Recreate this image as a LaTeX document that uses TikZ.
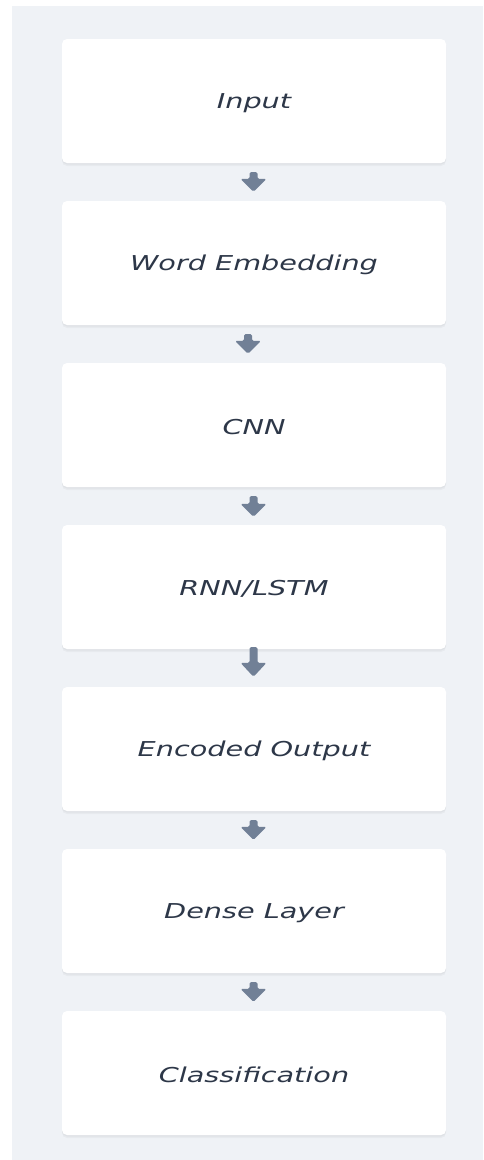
\documentclass[tikz,border=0pt]{standalone}
\usepackage{fontspec}
\setmainfont{DejaVu Sans}
\usetikzlibrary{calc,shadows}
\definecolor{panel}{HTML}{EFF2F6}
\definecolor{txt}{HTML}{2D3748}
\definecolor{arrowc}{HTML}{718096}
\newcommand{\lbl}[1]{\raisebox{-2pt}[\height][\depth]{\scalebox{1.4}[1]{\itshape #1}}}
% #1 from node, #2 to node, #3 dx, #4 gap below #1, #5 gap above #2, #6 head height
\newcommand{\blkarrow}[6]{%
  \fill[arrowc, rounded corners=1.5pt]
    ($(#1.south)+(#3-4,#4)$) -- ($(#1.south)+(#3+4,#4)$)
    -- ($(#2.north)+(#3+4,-#5-#6)$) -- ($(#2.north)+(#3+13,-#5-#6)$)
    -- ($(#2.north)+(#3,-#5)$)
    -- ($(#2.north)+(#3-13,-#5-#6)$) -- ($(#2.north)+(#3-4,-#5-#6)$) -- cycle;}
\begin{document}
\begin{tikzpicture}[x=1pt,y=-1pt,
  stage/.style={fill=white, rounded corners=5pt, minimum width=384pt, minimum height=124pt,
    inner sep=0pt, text=txt, font=\fontsize{20.5}{24}\selectfont,
    general shadow={fill=black, opacity=0.03, shadow xshift=0pt, shadow yshift=-3pt},
    general shadow={fill=black, opacity=0.03, shadow xshift=0pt, shadow yshift=-1.5pt}}]
\useasboundingbox (0,0) rectangle (483,1160);
\fill[white] (0,0) rectangle (483,1160);
\fill[panel] (12,6) rectangle (483,1160);
\node[stage] (b1) at (254,101) {\lbl{Input}};
\node[stage] (b2) at (254,263) {\lbl{Word Embedding}};
\node[stage] (b3) at (254,425) {\lbl{CNN}};
\node[stage] (b4) at (254,587) {\lbl{RNN/LSTM}};
\node[stage] (b5) at (254,749) {\lbl{Encoded Output}};
\node[stage] (b6) at (254,911) {\lbl{Dense Layer}};
\node[stage] (b7) at (254,1073) {\lbl{Classification}};
\blkarrow{b1}{b2}{-0.5}{9}{9}{13}
\blkarrow{b2}{b3}{-6}{9}{9}{13}
\blkarrow{b3}{b4}{-0.5}{9}{8}{13}
\blkarrow{b4}{b5}{-0.5}{-2}{10}{14}
\blkarrow{b5}{b6}{-0.5}{9}{9}{13}
\blkarrow{b6}{b7}{-0.5}{9}{9}{13}
\end{tikzpicture}
\end{document}
